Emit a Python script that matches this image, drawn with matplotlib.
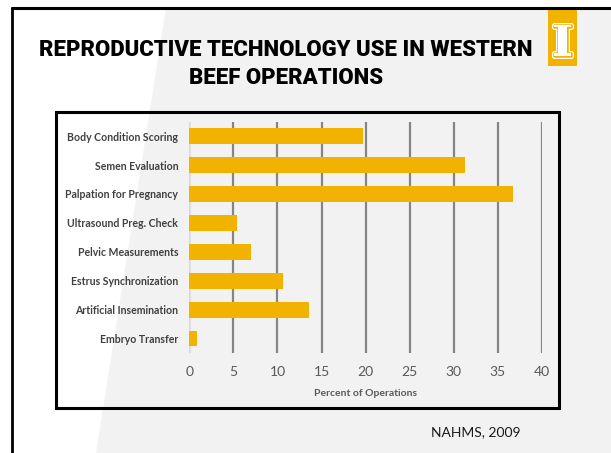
import matplotlib
matplotlib.use("Agg")
import matplotlib.pyplot as plt
import matplotlib.patheffects as pe
from matplotlib.patches import Polygon, Rectangle

# NAHMS 2009 beef study - share of western operations using each practice
practices = [
    "Body Condition Scoring",
    "Semen Evaluation",
    "Palpation for Pregnancy",
    "Ultrasound Preg. Check",
    "Pelvic Measurements",
    "Estrus Synchronization",
    "Artificial Insemination",
    "Embryo Transfer",
]
percent_ops = [19.7, 31.3, 36.7, 5.4, 7.0, 10.6, 13.6, 0.9]
x_ticks = [0, 5, 10, 15, 20, 25, 30, 35, 40]

W, H = 611, 453
GOLD = "#F1B300"
BG_GRAY = "#F2F2F2"

fig = plt.figure(figsize=(W / 100, H / 100), dpi=100)
fig.patch.set_facecolor("white")

# slide background drawn in pixel coordinates
bg = fig.add_axes([0, 0, 1, 1])
bg.set_xlim(0, W)
bg.set_ylim(H, 0)
bg.axis("off")
bg.add_patch(Polygon([(12, 8), (W, 8), (W, H), (96, H), (166, 8)],
                     closed=True, facecolor=BG_GRAY, edgecolor="none"))
bg.plot([11, W], [7.5, 7.5], color="black", lw=2.2, solid_capstyle="butt")
bg.plot([12, 12], [7, H], color="black", lw=2.0, solid_capstyle="butt")

# logo block
bg.add_patch(Rectangle((548, 9), 29, 57, facecolor=GOLD, edgecolor="none"))
bg.text(562.5, 44, "I", ha="center", va="center", fontsize=31,
        family="DejaVu Serif", weight="bold", color="white",
        path_effects=[pe.Stroke(linewidth=3.6, foreground="white"),
                      pe.Stroke(linewidth=1.8, foreground=GOLD),
                      pe.Normal()])

# chart frame
bg.add_patch(Rectangle((56, 112), 502.5, 296, facecolor="none",
                       edgecolor="black", lw=2.2))

bg.text(286, 49.5, "REPRODUCTIVE TECHNOLOGY USE IN WESTERN",
        ha="center", va="center", fontsize=15.9, family="Roboto",
        weight="black", color="black")
bg.text(286, 77.5, "BEEF OPERATIONS",
        ha="center", va="center", fontsize=15.9, family="Roboto",
        weight="black", color="black")
bg.text(476, 432, "NAHMS, 2009", ha="center", va="center",
        fontsize=10, family="Lato", color="#1a1a1a")

# bar chart
left, right = 189.3, 542.0
top, bottom = 121.7, 353.0
ax = fig.add_axes([left / W, 1 - bottom / H, (right - left) / W, (bottom - top) / H])
ax.patch.set_alpha(0)

ypos = list(range(len(practices)))
ax.barh(ypos, percent_ops, height=0.55, color=GOLD, zorder=3)
ax.set_ylim(len(practices) - 0.5, -0.5)
ax.set_xlim(0, 40)
ax.set_xticks(x_ticks)
ax.set_yticks(ypos)
ax.set_yticklabels(practices, fontsize=7.6, family="Lato", weight="bold",
                   color="#404040")

for t in x_ticks[1:]:
    ax.axvline(t, color="#858585", lw=1.6, zorder=1)
ax.axvline(0, color="#D9D9D9", lw=1.8, zorder=2)

for s in ax.spines.values():
    s.set_visible(False)
ax.tick_params(axis="x", length=0, pad=9, labelsize=10, labelcolor="#595959")
ax.tick_params(axis="y", length=0, pad=8)
for lbl in ax.get_xticklabels():
    lbl.set_family("Lato")

ax.set_xlabel("Percent of Operations", fontsize=7.5, family="Lato",
              weight="bold", color="#595959", labelpad=8)

fig.savefig("out.png", dpi=100, facecolor="white")
